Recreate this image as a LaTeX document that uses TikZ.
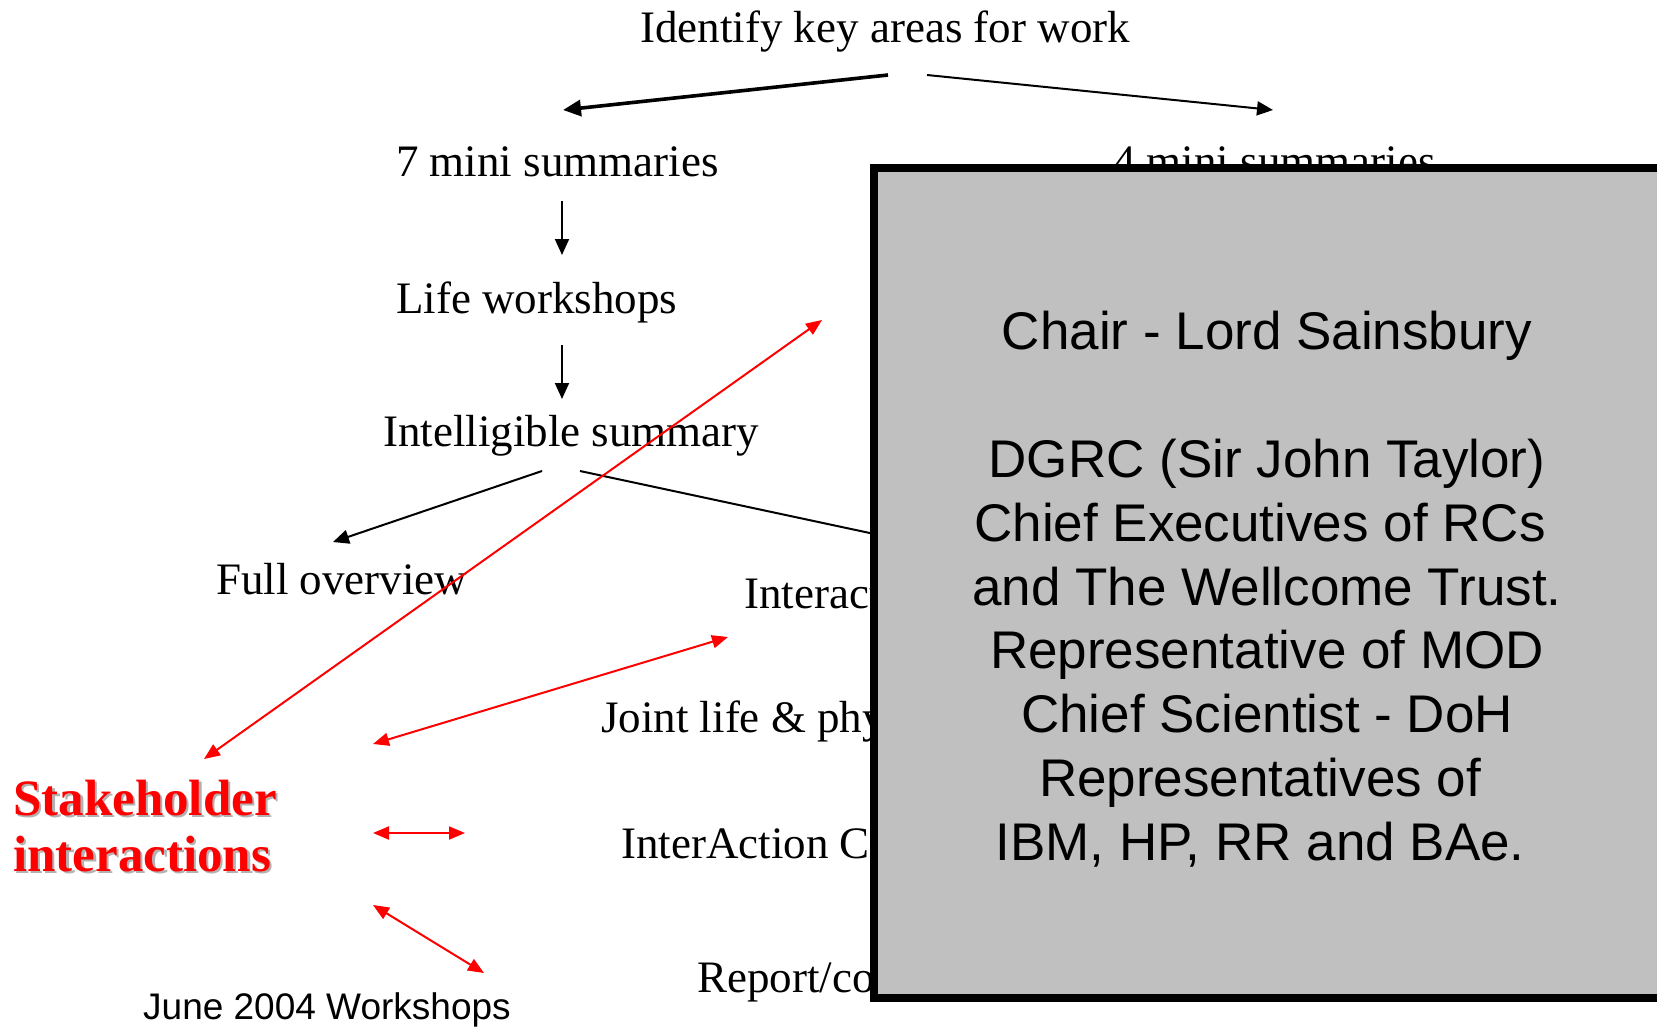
\documentclass[tikz,border=0pt]{standalone}
\usepackage{fontspec}
\setmainfont{Liberation Serif}
\newfontfamily\arialfont{Liberation Sans}
\usetikzlibrary{arrows.meta}
\definecolor{panelgray}{RGB}{192,192,192}
\definecolor{shadowgray}{RGB}{178,178,178}

\begin{document}
\begin{tikzpicture}[x=1pt,y=-1pt,
  lbl/.style={anchor=base west,inner sep=0pt,font=\fontsize{45}{54}\selectfont},
  boxline/.style={anchor=base,inner sep=0pt,font=\arialfont\fontsize{53}{64}\selectfont},
  redlbl/.style={anchor=base west,inner sep=0pt,font=\bfseries\fontsize{51}{56}\selectfont},
  flow/.style={draw=black,line width=2pt,-{Triangle[length=16pt,width=14pt]}},
  thickflow/.style={draw=black,line width=3.6pt,-{Triangle[length=18pt,width=16pt]}},
  link/.style={draw=red,line width=2pt,{Triangle[length=16pt,width=13pt]}-{Triangle[length=16pt,width=13pt]}},
  panel/.style={draw=black,line width=8pt,fill=panelgray,minimum width=846pt,minimum height=830pt,inner sep=0pt},
]
\useasboundingbox (0,0) rectangle (1657,1026);
\clip (0,0) rectangle (1657,1026);

% flow of summaries
\node[lbl] (top) at (640,42) {Identify key areas for work};
\node[lbl] (sevenmini) at (396,176) {7 mini summaries};
\node[lbl] (fourmini) at (1113,176) {4 mini summaries};
\node[lbl] (life) at (396,313) {Life workshops};
\node[lbl] (intell) at (383,446) {Intelligible summary};
\node[lbl] (full) at (216,594) {Full overview};
\node[lbl] (interac) at (744,608) {Interaction};
\node[lbl] (joint) at (601,732) {Joint life \& physical};
\node[lbl] (iac) at (621,858) {InterAction Co};
\node[lbl] (report) at (697,992) {Report/conf};

% connector end points
\coordinate (topL) at (888,75);
\coordinate (topR) at (927,75);
\coordinate (sevenIn) at (563,110);
\coordinate (fourIn) at (1273,110);
\coordinate (sevenOut) at (562,201);
\coordinate (lifeIn) at (562,255);
\coordinate (lifeOut) at (562,345);
\coordinate (intellIn) at (562,399);
\coordinate (intellOutL) at (542,471);
\coordinate (fullIn) at (333,542);
\coordinate (intellOutR) at (580,471);
\coordinate (hiddenIn) at (1010,563);

\draw[thickflow] (topL) -- (sevenIn);
\draw[flow] (topR) -- (fourIn);
\draw[flow] (sevenOut) -- (lifeIn);
\draw[flow] (lifeOut) -- (intellIn);
\draw[flow] (intellOutL) -- (fullIn);
\draw[flow] (intellOutR) -- (hiddenIn);

% committee panel
\node[panel] (panel) at (1297,583) {};
\node[boxline] (chair) at (1267,349) {Chair - Lord Sainsbury};
\node[boxline] (dgrc) at (1267,477) {DGRC (Sir John Taylor)};
\node[boxline] (ceos) at (1260,541) {Chief Executives of RCs};
\node[boxline] (wellcome) at (1267,605) {and The Wellcome Trust.};
\node[boxline] (mod) at (1267,668) {Representative of MOD};
\node[boxline] (doh) at (1267,732) {Chief Scientist - DoH};
\node[boxline] (reps) at (1260,796) {Representatives of};
\node[boxline] (firms) at (1260,860) {IBM, HP, RR and BAe.};

% stakeholder interactions
\node[redlbl,text=shadowgray] (shadowA) at (15.5,817.5) {Stakeholder};
\node[redlbl,text=shadowgray] (shadowB) at (15.5,873.5) {interactions};
\node[redlbl,text=red] (stakeA) at (13,815) {Stakeholder};
\node[redlbl,text=red] (stakeB) at (13,871) {interactions};

\coordinate (sA) at (204,759);
\coordinate (sB) at (822,320);
\coordinate (sC) at (373,744);
\coordinate (sD) at (728,637);
\coordinate (sE) at (373,833);
\coordinate (sF) at (465,833);
\coordinate (sG) at (373,905);
\coordinate (sH) at (484,973);
\draw[link] (sA) -- (sB);
\draw[link] (sC) -- (sD);
\draw[link] (sE) -- (sF);
\draw[link] (sG) -- (sH);

\node[anchor=base west,inner sep=0pt,font=\arialfont\fontsize{37}{44}\selectfont] (june) at (143,1019) {June 2004 Workshops};
\end{tikzpicture}
\end{document}
